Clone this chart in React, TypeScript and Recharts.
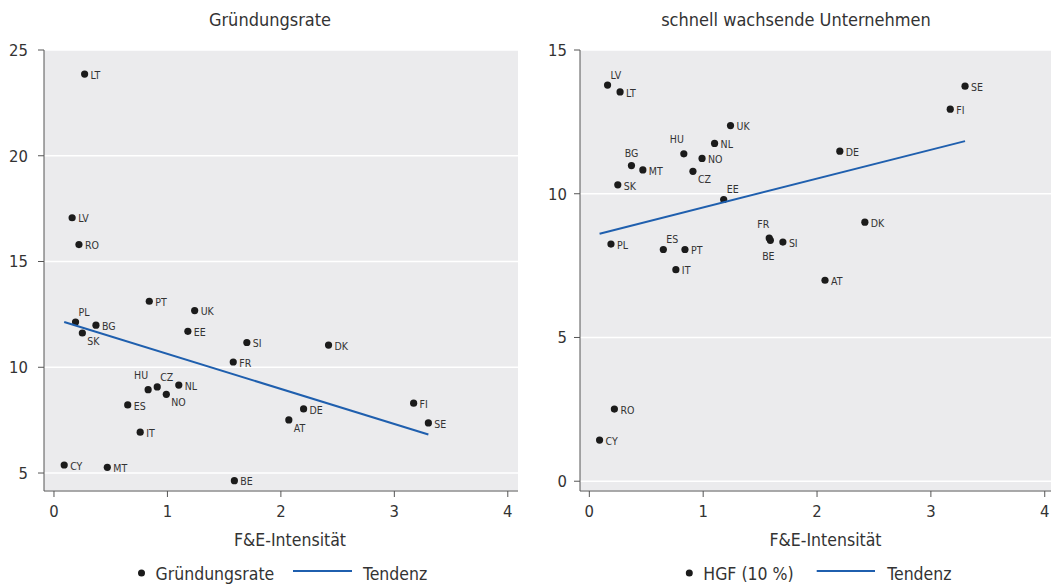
import { ScatterChart, Scatter, XAxis, YAxis, CartesianGrid } from "recharts";

// R&D intensity (F&E-Intensität), shared by both panels
const countries = ["AT", "BE", "BG", "CY", "CZ", "DE", "DK", "EE", "ES", "FI", "FR", "HU", "IT", "LT", "LV", "MT", "NL", "NO", "PL", "PT", "RO", "SE", "SI", "SK", "UK"];
const rdIntensity = [2.07, 1.59, 0.37, 0.09, 0.91, 2.2, 2.42, 1.18, 0.65, 3.17, 1.58, 0.83, 0.76, 0.27, 0.16, 0.47, 1.1, 0.99, 0.19, 0.84, 0.22, 3.3, 1.7, 0.25, 1.24];
const gruendungsrate = [7.51, 4.64, 11.99, 5.38, 9.07, 8.03, 11.05, 11.7, 8.22, 8.3, 10.25, 8.94, 6.93, 23.86, 17.07, 5.27, 9.16, 8.72, 12.14, 13.12, 15.8, 7.37, 11.17, 11.62, 12.68];
const hgf = [6.99, 8.38, 10.98, 1.43, 10.78, 11.48, 9.01, 9.8, 8.06, 12.94, 8.46, 11.39, 7.36, 13.54, 13.78, 10.83, 11.75, 11.23, 8.25, 8.06, 2.51, 13.74, 8.32, 10.31, 12.37];

const trendX = [0.09, 3.3];
const gruendTrend = [12.14, 6.82];
const hgfTrend = [8.61, 11.83];

const xTicks = [0, 1, 2, 3, 4];
const leftYTicks = [5, 10, 15, 20, 25];
const rightYTicks = [0, 5, 10, 15];

// label clock positions (default 3 o'clock)
const leftLabelPos: Record<string, number> = { PL: 1, SK: 4, HU: 11, CZ: 1, NO: 4, AT: 4 };
const rightLabelPos: Record<string, number> = { LV: 1, HU: 11, BG: 12, CZ: 4, EE: 1, FR: 11, BE: 6, ES: 1 };

const FONT = "'DejaVu Sans Condensed', 'DejaVu Sans', sans-serif";
const BLUE = "#1f5fae";
const INK = "#333333";
const AXIS = "#555555";
const BG = "#EBEBED";

const clock: Record<number, [number, number, "start" | "middle" | "end"]> = {
  3: [6, 1, "start"],
  1: [3, -10, "start"],
  4: [5, 8, "start"],
  11: [0, -14, "end"],
  12: [0, -12, "middle"],
  6: [-2, 16, "middle"],
};

const makeDot = (positions: Record<string, number>) => (props: any) => {
  const { cx, cy, payload } = props;
  const [dx, dy, anchor] = clock[positions[payload.name] ?? 3];
  return (
    <g>
      <circle cx={cx} cy={cy} r={3.6} fill="#1b1b1b" />
      <text x={cx + dx} y={cy + dy} dy="0.35em" textAnchor={anchor} fontSize={10.5} fill={INK}>
        {payload.name}
      </text>
    </g>
  );
};

const noShape = () => <g />;

const leftData = countries.map((c, i) => ({ name: c, x: rdIntensity[i], y: gruendungsrate[i] }));
const rightData = countries.map((c, i) => ({ name: c, x: rdIntensity[i], y: hgf[i] }));
const leftTrend = trendX.map((x, i) => ({ x, y: gruendTrend[i] }));
const rightTrend = trendX.map((x, i) => ({ x, y: hgfTrend[i] }));

function LegendRow({ dotX, text, lineX1, lineX2, text2X }: { dotX: number; text: string; lineX1: number; lineX2: number; text2X: number }) {
  return (
    <g fontSize={17.5} fill={INK}>
      <circle cx={dotX} cy={573} r={3.5} fill="#1b1b1b" />
      <text x={dotX + 14} y={580}>{text}</text>
      <line x1={lineX1} x2={lineX2} y1={571} y2={571} stroke={BLUE} strokeWidth={2} />
      <text x={text2X} y={580}>Tendenz</text>
    </g>
  );
}

const tickStyle = { fontSize: 16.5, fill: INK };

export default function App() {
  return (
    <div
      style={{
        position: "absolute",
        left: 0,
        top: 0,
        width: 1051,
        height: 585,
        background: "#fff",
        fontFamily: FONT,
        fontStretch: "condensed",
      }}
    >
      <div style={{ position: "absolute", left: 0, top: 0 }}>
        <ScatterChart width={530} height={585} margin={{ top: 50, right: 12, bottom: 34, left: 0 }}>
          <CartesianGrid vertical={false} stroke="#fff" strokeWidth={1.5} fill={BG} fillOpacity={1} />
          <XAxis
            type="number"
            dataKey="x"
            domain={[-0.088, 4.09]}
            ticks={xTicks}
            allowDataOverflow
            height={60}
            tickSize={6}
            tickMargin={8}
            stroke={AXIS}
            tick={tickStyle}
            label={{ value: "F&E-Intensität", position: "insideBottom", offset: 5, dx: 9, fontSize: 17.5, fill: INK }}
          />
          <YAxis
            type="number"
            dataKey="y"
            domain={[4.15, 25]}
            ticks={leftYTicks}
            allowDataOverflow
            width={44}
            tickSize={6}
            tickMargin={10}
            stroke={AXIS}
            tick={tickStyle}
          />
          <Scatter data={leftData} shape={makeDot(leftLabelPos)} isAnimationActive={false} />
          <Scatter data={leftTrend} line={{ stroke: BLUE, strokeWidth: 2 }} lineType="joint" shape={noShape} isAnimationActive={false} />
          <text x={270} y={26} textAnchor="middle" fontSize={18} fill={INK}>
            Gründungsrate
          </text>
          <LegendRow dotX={141.5} text="Gründungsrate" lineX1={293} lineX2={352} text2X={363} />
        </ScatterChart>
      </div>
      <div style={{ position: "absolute", left: 530, top: 0 }}>
        <ScatterChart width={521} height={585} margin={{ top: 50, right: 0, bottom: 34, left: 0 }}>
          <CartesianGrid vertical={false} stroke="#fff" strokeWidth={1.5} fill={BG} fillOpacity={1} />
          <XAxis
            type="number"
            dataKey="x"
            domain={[-0.082, 4.055]}
            ticks={xTicks}
            allowDataOverflow
            height={60}
            tickSize={6}
            tickMargin={8}
            stroke={AXIS}
            tick={tickStyle}
            label={{ value: "F&E-Intensität", position: "insideBottom", offset: 5, dx: 10, fontSize: 17.5, fill: INK }}
          />
          <YAxis
            type="number"
            dataKey="y"
            domain={[-0.34, 15]}
            ticks={rightYTicks}
            allowDataOverflow
            width={50}
            tickSize={6}
            tickMargin={7}
            stroke={AXIS}
            tick={tickStyle}
          />
          <Scatter data={rightData} shape={makeDot(rightLabelPos)} isAnimationActive={false} />
          <Scatter data={rightTrend} line={{ stroke: BLUE, strokeWidth: 2 }} lineType="joint" shape={noShape} isAnimationActive={false} />
          <text x={266} y={26} textAnchor="middle" fontSize={18} fill={INK}>
            schnell wachsende Unternehmen
          </text>
          <LegendRow dotX={159.3} text="HGF (10 %)" lineX1={286.7} lineX2={345} text2X={357.3} />
        </ScatterChart>
      </div>
    </div>
  );
}
